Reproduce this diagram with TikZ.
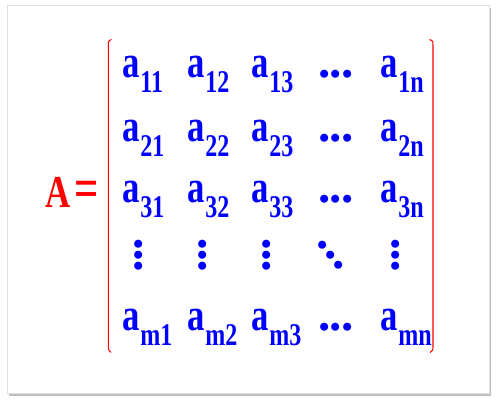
\documentclass[tikz,border=0pt]{standalone}
\usepackage{fontspec}
\setmainfont{Liberation Serif}
\usepackage{graphicx}
\usetikzlibrary{shadows}
% entry a_{ij}, narrowed like the picture
\newcommand\ent[1]{\scalebox{0.76}[1]{a\kern0.5pt\raisebox{-8.5pt}{\fontsize{18}{18}\selectfont #1}}}
% horizontal, vertical and diagonal dots
\newcommand\hdts{.\kern-0.5pt.\kern-0.5pt.}
\newcommand\vdts{\vbox{\baselineskip6.1pt\lineskiplimit-10pt\lineskip0pt\hbox{.}\hbox{.}\hbox{.}}}
\newcommand\dgdts{\raisebox{11.6pt}{.}\kern-2.5pt\raisebox{5.8pt}{.}\kern-2.5pt.}
\tikzset{
    % style for the entries
    ent/.style={
        text=blue,
        anchor=base west,
        inner sep=0pt,
        font=\fontsize{26}{26}\selectfont\bfseries},
    % style for the dots
    dts/.style={
        text=blue,
        inner sep=0pt,
        font=\fontsize{28}{28}\selectfont\bfseries},
    % style for the brackets
    brak/.style={
        red,
        line width=0.6pt}
}
\begin{document}
\begin{tikzpicture}[x=0.02cm, y=-0.02cm]
    \useasboundingbox (0,0) rectangle (498,405);
    % frame
    \draw[gray!25, fill=white, drop shadow={shadow xshift=1.2pt, shadow yshift=-1.6pt, opacity=0.5, fill=gray}] (7,5) rectangle (489,393);
    % left side
    \node[ent, text=red] (lhs) at (45,208) {\scalebox{0.76}[1]{A\kern3pt{\fontsize{32}{32}\selectfont=}}};
    % rows of entries
    \foreach \r/\y in {1/78, 2/142, 3/203, m/331} {
        \foreach \c/\x in {1/122, 2/187, 3/251, n/380}
            \node[ent] (a\r\c) at (\x,\y) {\ent{\r\c}};
        \node[dts, anchor=base west] (h\r) at (318,\y) {\hdts};
    }
    % row of dots
    \foreach \c/\x in {1/139, 2/203, 3/267, n/396}
        \node[dts] (v\c) at (\x,255) {\vdts};
    \node[dts] (dg) at (331,255) {\dgdts};
    % brackets
    \draw[brak] (111.5,39.5) .. controls (108.3,41) .. (108.3,46) -- (108.3,346) .. controls (108.3,350) .. (111,352.5);
    \draw[brak] (429.5,39.5) .. controls (433,41) .. (433,46) -- (433,346) .. controls (433,350) .. (430,352.5);
\end{tikzpicture}
\end{document}
